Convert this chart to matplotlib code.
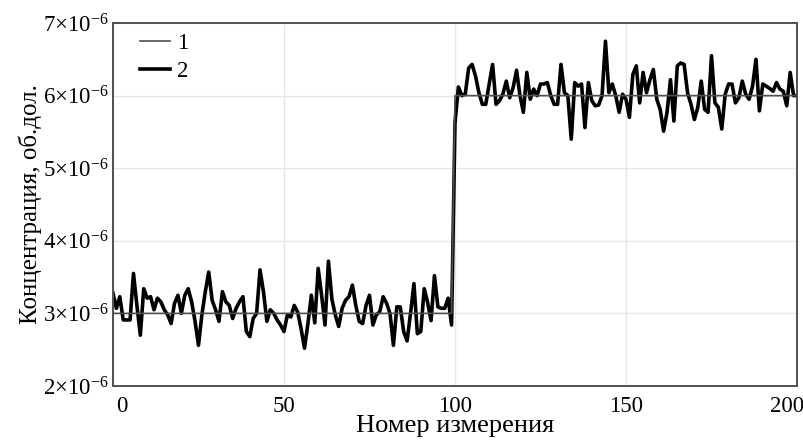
import matplotlib
matplotlib.use("Agg")
import matplotlib.pyplot as plt
import matplotlib.transforms as mtransforms
import numpy as np

plt.rcParams["font.family"] = ["Liberation Serif", "DejaVu Serif"]
plt.rcParams["mathtext.fontset"] = "custom"
plt.rcParams["mathtext.rm"] = "Liberation Serif"
plt.rcParams["mathtext.it"] = "Liberation Serif:italic"

# измеренная концентрация, 10^-6 об.дол. (измерения 0..99 и 100..200)
conc_low = [3.28, 3.07, 3.23, 2.91, 2.91, 2.91, 3.55, 3.11, 2.70, 3.34,
            3.21, 3.23, 3.05, 3.21, 3.16, 3.05, 2.98, 2.86, 3.14, 3.25,
            3.00, 3.25, 3.34, 3.16, 2.89, 2.56, 2.98, 3.30, 3.57, 3.18,
            3.05, 2.89, 3.30, 3.16, 3.11, 2.93, 3.07, 3.16, 3.23, 2.75,
            2.68, 2.93, 3.00, 3.60, 3.30, 2.89, 3.05, 3.00, 2.91, 2.84,
            2.75, 2.98, 2.95, 3.11, 3.02, 2.79, 2.52, 2.86, 3.25, 2.87,
            3.62, 3.25, 2.84, 3.72, 3.20, 2.98, 2.82, 3.07, 3.18, 3.23,
            3.39, 3.11, 2.89, 2.86, 3.11, 3.25, 2.84, 2.98, 3.02, 3.23,
            3.14, 3.00, 2.56, 3.09, 3.09, 2.75, 2.62, 3.00, 3.41, 2.72,
            2.75, 3.34, 3.15, 2.90, 3.52, 3.09, 3.07, 3.07, 3.21, 2.84]
conc_high = [5.62, 6.12, 6.00, 6.02, 6.38, 6.43, 6.27, 6.04, 5.88, 5.88,
             6.16, 6.43, 5.88, 5.93, 6.02, 6.20, 5.97, 6.11, 6.35, 6.00,
             5.77, 6.32, 5.95, 6.09, 6.00, 6.16, 6.16, 6.18, 6.00, 5.88,
             5.88, 6.43, 6.04, 6.00, 5.40, 6.18, 6.13, 6.16, 5.56, 6.18,
             5.93, 5.86, 5.87, 6.00, 6.75, 6.04, 6.16, 6.00, 5.77, 6.02,
             5.95, 5.70, 6.29, 6.41, 5.90, 6.32, 6.04, 6.22, 6.36, 5.95,
             5.81, 5.51, 5.77, 6.22, 5.65, 6.41, 6.45, 6.43, 6.04, 5.88,
             5.67, 5.84, 6.20, 5.81, 5.77, 6.55, 5.90, 5.84, 5.54, 6.02,
             6.16, 6.16, 5.90, 5.97, 6.20, 6.02, 5.95, 6.13, 6.50, 5.79,
             6.16, 6.13, 6.10, 6.06, 6.18, 6.09, 6.06, 5.86, 6.32, 6.00,
             6.00]

# истинные уровни (кривая 1)
ref_low = 3.0
ref_high = 6.0

x_ticks = [0, 50, 100, 150, 200]
y_ticks = [2, 3, 4, 5, 6, 7]

measured = np.array(conc_low + conc_high) * 1e-6
n = np.arange(len(measured))
reference = np.where(n < len(conc_low), ref_low, ref_high) * 1e-6

fig = plt.figure(figsize=(8.04, 4.43), dpi=100)
ax = fig.add_axes([0.1405, 0.1287, 0.8508, 0.8193])

ax.plot(n, reference, color="#505050", linewidth=1.2, label="1", zorder=3)
ax.plot(n, measured, color="black", linewidth=2.6, label="2", zorder=2)

ax.set_xlim(0, 200)
ax.set_ylim(2e-6, 7e-6)
ax.set_xticks(x_ticks)
ax.set_xticklabels([str(t) for t in x_ticks])
ax.set_yticks([v * 1e-6 for v in y_ticks])
ax.set_yticklabels([rf"${v}{{\times}}10^{{-6}}$" for v in y_ticks])
ax.tick_params(length=0, labelsize=16.5)
ax.tick_params(axis="x", pad=7)
ax.tick_params(axis="y", pad=3)

# крайние подписи оси X сдвинуты внутрь
labels = ax.get_xticklabels()
for lbl, dx in ((labels[0], 9), (labels[-1], -10)):
    lbl.set_transform(lbl.get_transform() +
                      mtransforms.ScaledTranslation(dx / 100, 0, fig.dpi_scale_trans))

ax.grid(True, color="#e6e6e6", linewidth=1.0)
ax.set_axisbelow(True)
for sp in ax.spines.values():
    sp.set_color("#505050")
    sp.set_linewidth(1.4)

ax.set_xlabel("Номер измерения", fontsize=19, labelpad=-1)
ax.set_ylabel("Концентрация, об.дол.", fontsize=18, labelpad=1)

ax.legend(loc="upper left", frameon=False, fontsize=16.5, handlelength=1.3,
          handletextpad=0.3, labelspacing=0.3, borderaxespad=0.2,
          bbox_to_anchor=(0.02, 1.01))

fig.savefig("out.png", dpi=100)
